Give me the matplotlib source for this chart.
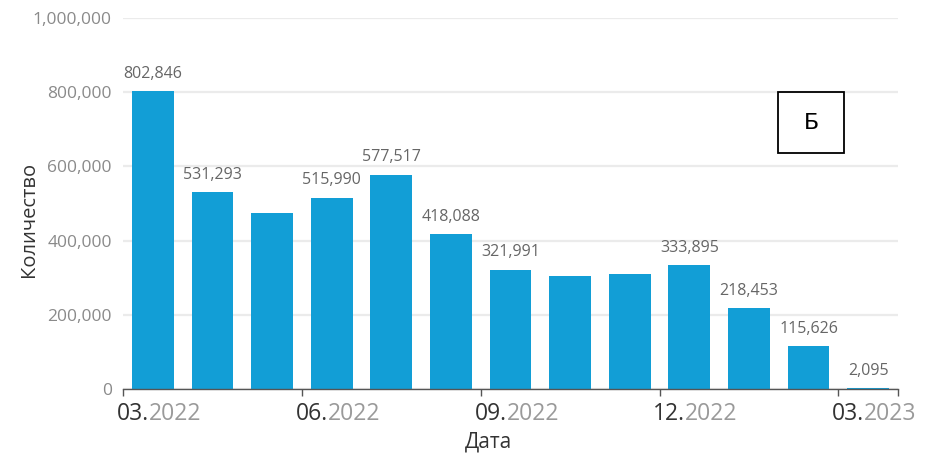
import matplotlib
matplotlib.use("Agg")
import matplotlib.pyplot as plt
from matplotlib.patches import Rectangle

plt.rcParams["font.family"] = ["Open Sans", "DejaVu Sans"]

# Monthly counts, 03.2022 .. 03.2023
months = ["03.2022", "04.2022", "05.2022", "06.2022", "07.2022", "08.2022", "09.2022",
          "10.2022", "11.2022", "12.2022", "01.2023", "02.2023", "03.2023"]
counts = [802846, 531293, 475000, 515990, 577517, 418088, 321991,
          304000, 310000, 333895, 218453, 115626, 2095]
labeled = [True, True, False, True, True, True, True,
           False, False, True, True, True, True]

# Quarter tick labels (month part, year part), placed at month boundaries
tick_months = ["03.", "06.", "09.", "12.", "03."]
tick_years = ["2022", "2022", "2022", "2022", "2023"]
tick_index = [0, 3, 6, 9, 12]

yticks = [0, 200000, 400000, 600000, 800000, 1000000]

bar_color = "#129ed6"
grid_color = "#ebebeb"
label_gray = "#666666"
tick_gray = "#8a8a8a"
dark = "#333333"

fig = plt.figure(figsize=(9.27, 4.54), dpi=100)
ax = fig.add_axes([123 / 927, 1 - 389 / 454, (898 - 123) / 927, (389 - 18) / 454])

x = list(range(len(months)))
ax.bar(x, counts, width=0.7, color=bar_color, zorder=2)

for xi, v, show in zip(x, counts, labeled):
    if show:
        ax.annotate(f"{v:,}", (xi, v), xytext=(0, 12.5), textcoords="offset points",
                    ha="center", va="center", fontsize=11.5, color=label_gray)

ax.set_xlim(-0.5, 12.5)
ax.set_ylim(0, 1000000)
ax.set_yticks(yticks)
ax.set_yticklabels([f"{t:,}" for t in yticks], fontsize=12.5, color=tick_gray)
ax.yaxis.grid(True, color=grid_color, linewidth=1.6, zorder=0)
ax.tick_params(axis="y", length=0, pad=8)

for s in ["left", "right", "top"]:
    ax.spines[s].set_visible(False)
ax.spines["bottom"].set_color("#555555")
ax.spines["bottom"].set_linewidth(1.0)
ax.spines["bottom"].set_zorder(3)

tick_pos = [i - 0.5 for i in tick_index] + [12.5]
ax.set_xticks(tick_pos)
ax.set_xticklabels([])
ax.tick_params(axis="x", length=5, width=1.0, color="#555555", direction="out")

# Two-tone quarter labels: dark month, light year
fig.canvas.draw()
renderer = fig.canvas.get_renderer()
for idx, mo, yr in zip(tick_index, tick_months, tick_years):
    xpos = idx - 0.5
    t1 = ax.annotate(mo, (xpos, 0), xytext=(-4.5, -18), textcoords="offset points",
                     xycoords=("data", "axes fraction"),
                     ha="left", va="center", fontsize=16.5, color=dark)
    bb = t1.get_window_extent(renderer)
    ax.annotate(yr, (xpos, 0), xytext=(-4.5 + bb.width * 72 / fig.dpi, -18),
                textcoords="offset points", xycoords=("data", "axes fraction"),
                ha="left", va="center", fontsize=16.5, color="#9a9a9a")

fig.text(29 / 927, 1 - 219 / 454, "Количество", rotation=90, ha="center", va="center",
         fontsize=14.5, color=dark)
fig.text(489 / 927, 1 - 442 / 454, "Дата", ha="center", va="center",
         fontsize=15, color=dark)

# Panel letter in a framed box
fig.patches.append(Rectangle((778 / 927, 1 - 153 / 454), 66 / 927, 61 / 454,
                             transform=fig.transFigure, fill=False,
                             edgecolor="black", linewidth=1.3))
fig.text(811 / 927, 1 - 123 / 454, "Б", ha="center", va="center", fontsize=16,
         color="black", family=["DejaVu Sans"])

fig.savefig("out.png", dpi=100)
